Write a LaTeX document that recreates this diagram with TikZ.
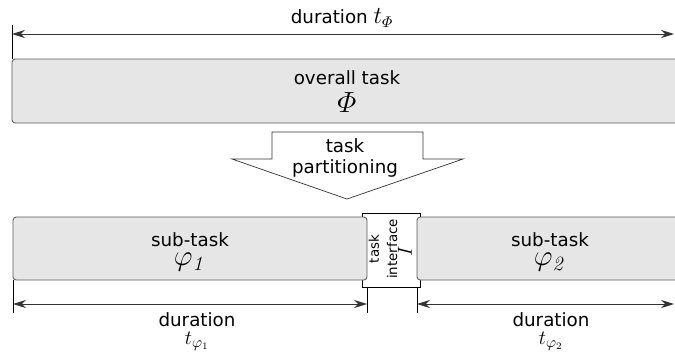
\documentclass[tikz,border=0pt]{standalone}
\usepackage{amsmath}
\usepackage[no-math]{fontspec}
\setmainfont{DejaVu Sans}
\usetikzlibrary{arrows.meta,calc}
\definecolor{boxgray}{HTML}{E6E6E6}
\definecolor{edgegray}{HTML}{5A5A5A}
\definecolor{linegray}{HTML}{333333}
\tikzset{
  taskbox/.style={
    draw=edgegray,
    fill=boxgray,
    line width=0.6pt,
    rounded corners=0.08cm
  },
  ifacebox/.style={
    draw=black,
    fill=white,
    line width=0.5pt
  },
  partarrow/.style={
    draw=linegray,
    fill=white,
    line width=0.5pt
  },
  dimline/.style={
    draw=linegray,
    line width=0.7pt,
    {Stealth[length=3.2mm,width=2mm,inset=1mm]}-{Stealth[length=3.2mm,width=2mm,inset=1mm]}
  },
  dimtick/.style={
    draw=black,
    line width=0.6pt
  },
  lbl/.style={
    inner sep=0pt,
    font=\fontsize{13}{15}\selectfont
  },
  sym/.style={
    inner sep=0pt,
    font=\fontsize{20}{22}\selectfont
  }
}

\begin{document}
\begin{tikzpicture}[x=0.025cm,y=-0.025cm]
  \useasboundingbox (0,0) rectangle (675,351);
  % overall task
  \coordinate (tl) at (12,25);
  \coordinate (tr) at (674,34);
  \draw[dimtick] (tl) -- (12,59);
  \draw[dimline] (12,34) -- (tr);
  \node[lbl] (durall) at (342,18) {duration {\fontsize{16}{16}\selectfont$t_{\varPhi}$}};
  \draw[taskbox] (12,59) rectangle (690,123);
  \node[lbl] (ovtxt) at (347,78) {overall task};
  \node[sym] (ovsym) at (347,103) {$\varPhi$};
  % partitioning arrow
  \draw[partarrow] (272,132) -- (423,132) -- (423,159) -- (463,159)
    -- (347,199) -- (232,159) -- (272,159) -- cycle;
  \node[lbl] (parta) at (345,146) {task};
  \node[lbl] (partb) at (345,168) {partitioning};
  % sub-tasks and interface
  \draw[ifacebox] (362,213) rectangle (420,287);
  \draw[taskbox] (13,217) rectangle (367,280);
  \draw[taskbox] (417,217) rectangle (690,280);
  \node[lbl,rotate=90,align=center,font=\fontsize{9.5}{13}\selectfont] (iface)
    at (383,249) {task\\interface};
  \node[inner sep=0pt,rotate=90,font=\fontsize{14}{14}\selectfont] (ifsym)
    at (405,251) {$I$};
  \foreach \i/\x in {1/190,2/550}{
    \node[lbl,align=center,anchor=north] (sub\i) at (\x,232)
      {sub-task\\[-1pt]{\fontsize{20}{20}\selectfont$\varphi_{\mathit{\i}}$}};
  }
  % durations of the sub-tasks
  \coordinate (la) at (13,304);
  \coordinate (lb) at (367,304);
  \coordinate (ra) at (417,304);
  \coordinate (rb) at (674,304);
  \draw[dimtick] (13,280) -- (13,313);
  \draw[dimtick] (367,287) -- (367,313);
  \draw[dimtick] (417,287) -- (417,313);
  \draw[dimline] (la) -- (lb);
  \draw[dimline] (ra) -- (rb);
  \foreach \i/\x in {1/197,2/551}{
    \node[lbl,align=center,anchor=north] (dur\i) at (\x,312)
      {duration\\[-2pt]{\fontsize{15}{15}\selectfont$t_{\varphi_\i}$}};
  }
\end{tikzpicture}
\end{document}
